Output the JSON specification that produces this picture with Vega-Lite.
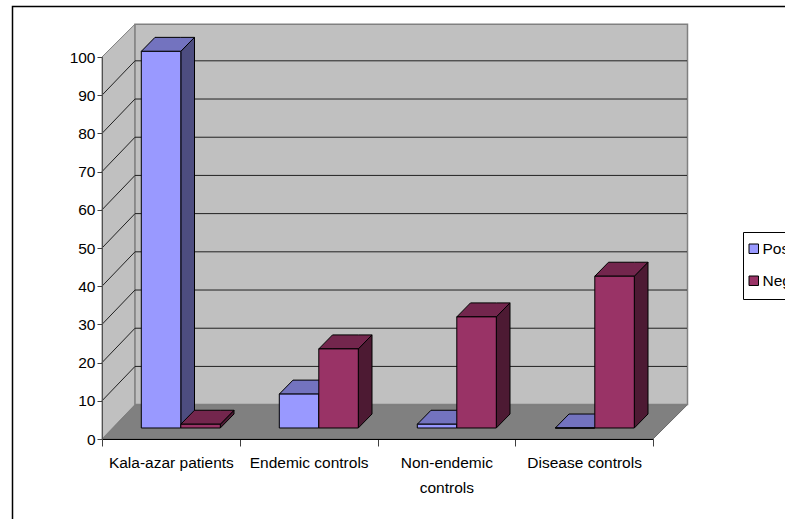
{"$schema":"https://vega.github.io/schema/vega-lite/v6.json","width":551,"height":382,"padding":{"left":102,"top":57,"right":132,"bottom":80},"autosize":{"type":"none"},"background":"#ffffff","config":{"view":{"stroke":null},"font":"Liberation Sans"},
"data":{"values":[
{"category":"Kala-azar patients","series":"Positive","value":100},
{"category":"Kala-azar patients","series":"Negative","value":1},
{"category":"Endemic controls","series":"Positive","value":9},
{"category":"Endemic controls","series":"Negative","value":21},
{"category":"Non-endemic controls","series":"Positive","value":1},
{"category":"Non-endemic controls","series":"Negative","value":29.5},
{"category":"Disease controls","series":"Positive","value":0},
{"category":"Disease controls","series":"Negative","value":40.3}]},
"transform":[
{"calculate":"indexof(['Kala-azar patients','Endemic controls','Non-endemic controls','Disease controls'],datum.category)","as":"slot"},
{"calculate":"39.3+138*datum.slot+(datum.series==='Positive'?0:39.5)","as":"left"},
{"calculate":"datum.left+39.5","as":"right"},
{"calculate":"2.88+datum.value*0.986","as":"top"},
{"calculate":"[0,1,2,3]","as":"vertex"},
{"flatten":["vertex"]}],
"encoding":{
"x":{"field":"px","type":"quantitative","scale":{"domain":[0,551],"nice":false,"zero":false},"axis":null},
"y":{"field":"py","type":"quantitative","scale":{"domain":[0,100],"nice":false,"zero":false},"axis":{"title":null,"values":[0,10,20,30,40,50,60,70,80,90,100],"tickSize":5,"tickColor":"#404040","domainColor":"#505050","labelFontSize":15.5,"labelColor":"#000000","labelPadding":2,"grid":false,"zindex":1}}},
"layer":[
{"data":{"values":[{"part":"frame"}]},"transform":[{"calculate":"-89.5","as":"px"},{"calculate":"800","as":"px2"},{"calculate":"113.2","as":"py"},{"calculate":"-40","as":"py2"}],"mark":{"type":"rect","filled":false,"stroke":"#000000","strokeWidth":1.5},"encoding":{"x2":{"field":"px2"},"y2":{"field":"py2"}}},
{"data":{"values":[{"corner":0},{"corner":1},{"corner":2},{"corner":3}]},"transform":[{"calculate":"[0,33,551,585.5][datum.corner]","as":"px"},{"calculate":"datum.corner===3?9:0","as":"py"},{"calculate":"datum.corner===0?0:9","as":"py2"}],"mark":{"type":"area","orient":"vertical","fill":"#808080","stroke":"#6a6a6a","strokeWidth":1},"encoding":{"y2":{"field":"py2"}}},
{"data":{"values":[{"corner":0},{"corner":1}]},"transform":[{"calculate":"datum.corner*33","as":"px"},{"calculate":"datum.corner*9","as":"py"},{"calculate":"100+datum.corner*8.6","as":"py2"}],"mark":{"type":"area","orient":"vertical","fill":"#c0c0c0","stroke":"#808080","strokeWidth":1},"encoding":{"y2":{"field":"py2"}}},
{"data":{"values":[{"corner":0},{"corner":1}]},"transform":[{"calculate":"33+datum.corner*552.5","as":"px"},{"calculate":"9","as":"py"},{"calculate":"108.6","as":"py2"}],"mark":{"type":"area","orient":"vertical","fill":"#c0c0c0","stroke":"#808080","strokeWidth":1.5},"encoding":{"y2":{"field":"py2"}}},
{"data":{"values":[{"tick":10},{"tick":20},{"tick":30},{"tick":40},{"tick":50},{"tick":60},{"tick":70},{"tick":80},{"tick":90}]},"transform":[{"calculate":"33","as":"px"},{"calculate":"585","as":"px2"},{"calculate":"datum.tick+9","as":"py"},{"calculate":"datum.tick+9","as":"py2"}],"mark":{"type":"rule","stroke":"#202020","strokeWidth":1},"encoding":{"x2":{"field":"px2"},"y2":{"field":"py2"}}},
{"data":{"values":[{"tick":10},{"tick":20},{"tick":30},{"tick":40},{"tick":50},{"tick":60},{"tick":70},{"tick":80},{"tick":90}]},"transform":[{"calculate":"0","as":"px"},{"calculate":"33","as":"px2"},{"calculate":"datum.tick","as":"py"},{"calculate":"datum.tick+9","as":"py2"}],"mark":{"type":"rule","stroke":"#202020","strokeWidth":1},"encoding":{"x2":{"field":"px2"},"y2":{"field":"py2"}}},
{"transform":[{"filter":"datum.series==='Positive'&&datum.vertex<2"},{"calculate":"datum.right+datum.vertex*13.7","as":"px"},{"calculate":"2.88+datum.vertex*3.66","as":"py"},{"calculate":"datum.top+datum.vertex*3.66","as":"py2"}],"mark":{"type":"area","orient":"vertical","fill":"#4d4d80","stroke":"#000000","strokeWidth":1},"encoding":{"y2":{"field":"py2"},"detail":{"field":"category"}}},
{"transform":[{"filter":"datum.series==='Positive'"},{"calculate":"[datum.left,datum.left+13.7,datum.right,datum.right+13.7][datum.vertex]","as":"px"},{"calculate":"datum.top+(datum.vertex===3?3.66:0)","as":"py"},{"calculate":"datum.top+(datum.vertex===0?0:3.66)","as":"py2"}],"mark":{"type":"area","orient":"vertical","fill":"#7373bf","stroke":"#000000","strokeWidth":1},"encoding":{"y2":{"field":"py2"},"detail":{"field":"category"}}},
{"transform":[{"filter":"datum.series==='Negative'&&datum.vertex<2"},{"calculate":"datum.right+datum.vertex*13.7","as":"px"},{"calculate":"2.88+datum.vertex*3.66","as":"py"},{"calculate":"datum.top+datum.vertex*3.66","as":"py2"}],"mark":{"type":"area","orient":"vertical","fill":"#4d1a33","stroke":"#000000","strokeWidth":1},"encoding":{"y2":{"field":"py2"},"detail":{"field":"category"}}},
{"transform":[{"filter":"datum.series==='Negative'"},{"calculate":"[datum.left,datum.left+13.7,datum.right,datum.right+13.7][datum.vertex]","as":"px"},{"calculate":"datum.top+(datum.vertex===3?3.66:0)","as":"py"},{"calculate":"datum.top+(datum.vertex===0?0:3.66)","as":"py2"}],"mark":{"type":"area","orient":"vertical","fill":"#73264d","stroke":"#000000","strokeWidth":1},"encoding":{"y2":{"field":"py2"},"detail":{"field":"category"}}},
{"transform":[{"filter":"datum.vertex<2"},{"calculate":"datum.left+datum.vertex*39.5","as":"px"},{"calculate":"2.88","as":"py"},{"calculate":"datum.top","as":"py2"}],"mark":{"type":"area","orient":"vertical","stroke":"#000000","strokeWidth":1},"encoding":{"y2":{"field":"py2"},"detail":{"field":"category"},"color":{"field":"series","type":"nominal","scale":{"domain":["Positive","Negative"],"range":["#9999ff","#993366"]},"legend":{"title":null,"orient":"none","legendX":641,"legendY":175,"symbolType":"square","symbolSize":90,"symbolOffset":-6,"symbolStrokeColor":"#000000","symbolStrokeWidth":1,"symbolOpacity":1,"labelFontSize":15.5,"labelColor":"#000000","strokeColor":"#000000","fillColor":"#ffffff","padding":9,"rowPadding":15,"labelOffset":1,"labelLimit":100}}}},
{"transform":[{"filter":"datum.vertex===0"}],"mark":{"type":"point","opacity":0},"encoding":{"x":{"field":"category","type":"nominal","scale":{"type":"band","domain":["Kala-azar patients","Endemic controls","Non-endemic controls","Disease controls"],"paddingInner":0,"paddingOuter":0},"axis":{"title":null,"labelAngle":0,"tickBand":"extent","tickSize":7,"tickColor":"#404040","domainColor":"#000000","labelFontSize":15.5,"labelColor":"#000000","labelPadding":9,"labelLineHeight":25,"labelLimit":200,"labelExpr":"datum.label==='Non-endemic controls'?['Non-endemic','controls']:datum.label","grid":false,"zindex":1}},"y":{"datum":0}}}
],
"resolve":{"scale":{"x":"independent"}}}
